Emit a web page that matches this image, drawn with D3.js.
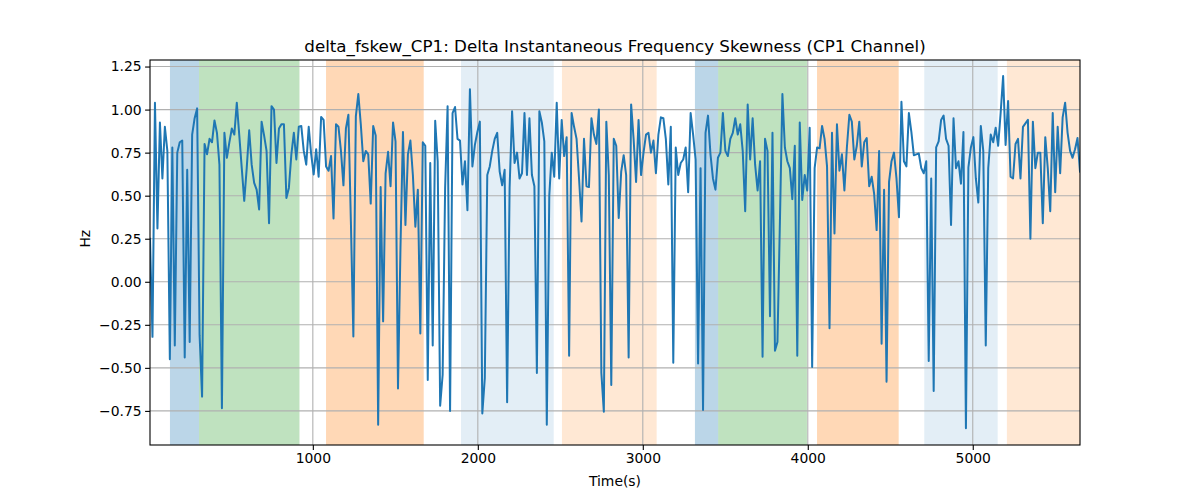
<!DOCTYPE html>
<html>
<head>
<meta charset="utf-8">
<script src="https://cdn.jsdelivr.net/npm/d3@7"></script>
<style>
  html, body { margin: 0; padding: 0; background: #fff; }
  svg { display: block; font-family: "DejaVu Sans", sans-serif; }
</style>
</head>
<body>
<svg id="chart" width="1200" height="500"></svg>
<script>
// ---- data ----
const tStart = 13;
const tEnd = 5650;
const values = [
  0.25, -0.32, 1.04, 0.31, 0.925, 0.60, 0.90, 0.76, -0.45, 0.78,
  -0.37, 0.75, 0.81, 0.82, -0.44, 0.65, -0.35, 0.855, 0.95, 1.007,
  -0.31, -0.667, 0.80, 0.74, 0.83, 0.81, 0.937, 0.865, 0.68, -0.735,
  0.865, 0.72, 0.81, 0.89, 0.855, 1.04, 0.85, 0.66, 0.47, 0.66,
  0.88, 0.68, 0.574, 0.535, 0.42, 0.93, 0.85, 0.76, 0.34, 1.02,
  1.0, 0.69, 0.89,
  0.915, 0.915, 0.487, 0.545, 0.74, 0.865, 0.71, 0.90, 0.905, 0.76,
  0.68, 0.90, 0.74, 0.623, 0.77, 0.61, 0.957, 0.94, 0.67, 0.645,
  0.73, 0.367, 0.915, 0.90, 0.76, 0.56, 0.89, 0.97, 0.35, -0.318,
  0.96, 1.09, 0.915, 0.70, 0.76, 0.74, 0.454, 0.905, 0.85, -0.83,
  0.55, -0.23, 0.63, 0.755, 0.555, 0.925, 0.815, -0.62, 0.2, 0.87,
  0.33, 0.74, 0.82,
  0.62, 0.32, 0.535, -0.30, 0.81, 0.79, -0.57, 0.69, -0.37, 0.935,
  0.70, -0.72, -0.54, 0.545, 1.02, -0.75, 0.98, 1.015, 0.83, 0.82,
  0.565, 0.70, 0.415, 1.118, 0.67, 0.795, 0.87, 0.93, -0.765, -0.56,
  0.62, 0.67, 0.76, 0.83, 0.865, 0.64, 0.56, 0.65, -0.70, 0.545,
  0.99, 0.69, 0.75, 0.60, 0.63, 0.98, 0.62, 0.95, 0.62, 0.555,
  -0.53, 0.99,
  0.925, 0.815, -0.83, 0.50, 0.75, 0.61, 1.04, 0.60, 0.94, 0.73,
  0.84, -0.43, 0.98, 0.90, 0.83, 0.60, 0.35, 0.83, 0.555, 0.55,
  0.95, 0.855, 0.80, 1.0, -0.53, -0.755, 0.93, 0.62, -0.60, 0.83,
  0.79, 0.37, 0.64, 0.735, 0.62, -0.44, 1.03, 0.83, 0.58, 0.94,
  0.62, 0.75, 0.855, 0.865, 0.75, 0.82, 0.63, 0.855, 0.955, 0.95,
  0.83, 0.565, 0.90,
  -0.47, 0.78, 0.62, 0.69, 0.71, 0.78, 0.52, 0.98, 0.855, 0.71,
  -0.475, 0.66, -0.745, 0.865, 0.965, 0.74, 0.60, 0.535, 0.72, 0.75,
  0.98, 0.76, 0.73, 0.83, 0.865, 0.95, 0.855, 0.915, 0.76, 0.41,
  1.03, 0.71, 0.95, 0.68, 0.53, 0.70, -0.435, 0.83, 0.76, -0.20,
  0.865, -0.40, -0.35, 0.35, 1.09, 0.78, 0.70, 0.66, 0.48, 0.79,
  -0.43, 0.925,
  0.475, 0.62, 0.53, 0.895, -0.495, 0.66, 0.78, 0.775, 0.905, 0.83,
  0.67, -0.27, 0.865, 0.28, 0.915, 0.645, 0.74, 0.53, 0.78, 0.97,
  0.93, 0.71, 0.79, 0.93, 0.67, 0.81, 0.835, 0.555, 0.61, 0.51,
  0.30, 0.76, -0.36, 0.535, -0.58, 0.58, 0.70, 0.75, 0.60, 0.375,
  1.045, 0.70, 0.67, 0.98, 0.87, 0.735, 0.74, 0.745, 0.66, 0.63,
  0.70, -0.46,
  0.60, -0.635, 0.78, 0.815, 0.94, 0.965, 0.83, 0.79, 0.33, 0.95,
  0.66, 0.70, 0.57, 0.87, -0.85, 0.665, 0.78, 0.84, 0.60, 0.46,
  0.905, 0.76, -0.37, 0.66, 0.855, 0.81, 0.895, 0.79, 0.98, 1.195,
  0.795, 1.05, 0.61, 0.60, 0.80, 0.83, 0.60, 0.90, 0.92, 0.94,
  0.25, 0.93, 0.66, 0.75, 0.75, 0.34, 0.84, 0.66, 0.41, 0.98,
  0.52, 0.90, 0.63, 0.955, 1.04, 0.865, 0.76, 0.72, 0.77, 0.835,
  0.64
];
const spanStarts = [134, 310, 1080, 1898, 2510, 3316, 3457, 4056, 4706, 5207];
const spanEnds   = [310, 919, 1672, 2460, 3084, 3457, 3995, 4551, 5151, 5650];
const spanKinds  = ["blue", "green", "orange", "lightblue", "lightorange", "blue", "green", "orange", "lightblue", "lightorange"];
const xTicks = [1000, 2000, 3000, 4000, 5000];
const yTicks = [-0.75, -0.5, -0.25, 0, 0.25, 0.5, 0.75, 1.0, 1.25];
const titleText = "delta_fskew_CP1: Delta Instantaneous Frequency Skewness (CP1 Channel)";
const xLabel = "Time(s)";
const yLabel = "Hz";

// ---- layout ----
const W = 1200, H = 500;
const m = { left: 150, right: 120, top: 60, bottom: 55 };
const iw = W - m.left - m.right, ih = H - m.top - m.bottom;
const spanStyle = {
  blue: { fill: "#1f77b4", op: 0.3 },
  green: { fill: "#2ca02c", op: 0.3 },
  orange: { fill: "#ff7f0e", op: 0.3 },
  lightblue: { fill: "#1f77b4", op: 0.125 },
  lightorange: { fill: "#ff7f0e", op: 0.175 }
};

const times = values.map((v, i) => tStart + i * (tEnd - tStart) / (values.length - 1));
const data = values.map((v, i) => ({ t: times[i], v }));

const svg = d3.select("#chart");
const g = svg.append("g").attr("transform", `translate(${m.left},${m.top})`);

const x = d3.scaleLinear().domain([tStart, tEnd]).range([0, iw]);
const y = d3.scaleLinear().domain([-0.948, 1.288]).range([ih, 0]);

// spans
g.selectAll("rect.span").data(spanStarts.map((s, i) => ({ s, e: spanEnds[i], k: spanKinds[i] })))
  .enter().append("rect")
  .attr("x", d => x(d.s)).attr("width", d => x(d.e) - x(d.s))
  .attr("y", 0).attr("height", ih)
  .attr("fill", d => spanStyle[d.k].fill)
  .attr("fill-opacity", d => spanStyle[d.k].op);

// grid
g.selectAll("line.gx").data(xTicks).enter().append("line")
  .attr("x1", d => x(d)).attr("x2", d => x(d)).attr("y1", 0).attr("y2", ih)
  .attr("stroke", "#b0b0b0").attr("stroke-width", 1.1);
g.selectAll("line.gy").data(yTicks).enter().append("line")
  .attr("y1", d => y(d)).attr("y2", d => y(d)).attr("x1", 0).attr("x2", iw)
  .attr("stroke", "#b0b0b0").attr("stroke-width", 1.1);

// line
const clipId = "clipArea";
svg.append("defs").append("clipPath").attr("id", clipId)
  .append("rect").attr("width", iw).attr("height", ih);
g.append("path").datum(data)
  .attr("clip-path", `url(#${clipId})`)
  .attr("fill", "none").attr("stroke", "#1f77b4").attr("stroke-width", 2)
  .attr("stroke-linejoin", "round").attr("stroke-linecap", "square")
  .attr("d", d3.line().x(d => x(d.t)).y(d => y(d.v)));

// axes
const fmtY = d => d3.format(".2f")(d).replace("-", "\u2212");
const xAxis = g.append("g").attr("transform", `translate(0,${ih})`)
  .call(d3.axisBottom(x).tickValues(xTicks).tickSize(4.9).tickPadding(3.5).tickFormat(d3.format("d")));
const yAxis = g.append("g")
  .call(d3.axisLeft(y).tickValues(yTicks).tickSize(4.9).tickPadding(3.5).tickFormat(fmtY));
[xAxis, yAxis].forEach(a => {
  a.select(".domain").remove();
  a.selectAll(".tick line").attr("stroke", "#000").attr("stroke-width", 1.1);
  a.selectAll(".tick text").attr("fill", "#000").style("font-size", "13.9px").style("font-family", "DejaVu Sans");
});

// frame
g.append("rect").attr("width", iw).attr("height", ih)
  .attr("fill", "none").attr("stroke", "#000").attr("stroke-width", 1.1);

// title & labels
svg.append("text").attr("x", m.left + iw / 2).attr("y", 52)
  .attr("text-anchor", "middle").style("font-size", "16.7px").attr("fill", "#000")
  .text(titleText);
svg.append("text").attr("x", m.left + iw / 2).attr("y", 486)
  .attr("text-anchor", "middle").style("font-size", "13.9px").attr("fill", "#000")
  .text(xLabel);
svg.append("text").attr("transform", `translate(90,${m.top + y(0.25)}) rotate(-90)`)
  .attr("text-anchor", "middle").style("font-size", "13.9px").attr("fill", "#000")
  .text(yLabel);
</script>
</body>
</html>
